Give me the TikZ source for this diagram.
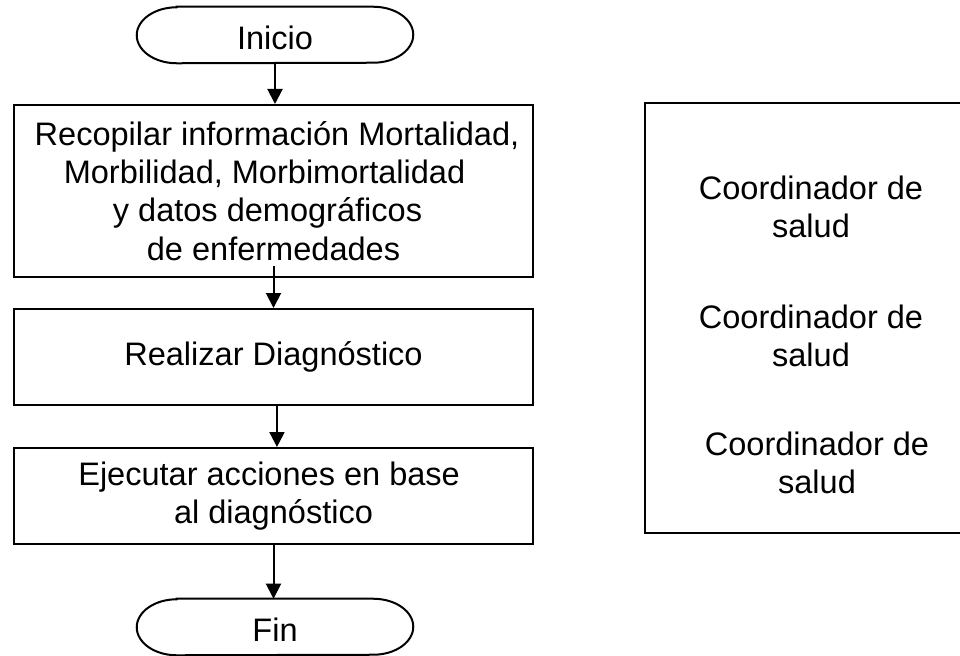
\documentclass[tikz,border=0pt]{standalone}
\usepackage{fontspec}
\setmainfont{Liberation Sans}
\usetikzlibrary{arrows.meta}
\tikzset{
  txt/.style={font=\fontsize{24.4pt}{28.6pt}\selectfont, align=center, inner sep=0pt},
  procbox/.style={txt, draw, line width=1.5pt, rectangle, minimum width=389.25pt, minimum height=72pt},
  termnode/.style={txt, minimum width=207pt, minimum height=42pt, text height=22pt, text depth=0pt},
  lanebox/.style={draw, line width=1.5pt, rectangle, minimum width=237.75pt, minimum height=322.5pt, inner sep=0pt},
  arr/.style={line width=1.5pt, -{Triangle[width=11.25pt,length=11.25pt]}},
  outline/.style={line width=1.5pt}
}
\newcommand\termoutline[1]{%
  \draw[outline] ([xshift=30pt]#1.north west) -- ([xshift=-30pt]#1.north east)
    arc[start angle=90,end angle=-90,x radius=30pt,y radius=21pt]
    -- ([xshift=30pt]#1.south west)
    arc[start angle=270,end angle=90,x radius=30pt,y radius=21pt] -- cycle;}
\begin{document}
\begin{tikzpicture}[x=0.75pt,y=-0.75pt]
\useasboundingbox (0,0) rectangle (960,656);
\fill[white] (0,0) rectangle (960,656);
% flow
\node[termnode] (inicio) at (275,35) {Inicio};
\termoutline{inicio}
\node[procbox, minimum height=129pt] (b1) at (273.5,191)
  {\kern5.25pt Recopilar información Mortalidad,\\
   Morbilidad, Morbimortalidad\kern13.5pt\\
   y datos demográficos\kern9pt\\
   de enfermedades};
\node[procbox] (b2) at (273.5,357) {Realizar Diagnóstico};
\node[procbox] (b3) at (273.5,496) {Ejecutar acciones en base\kern6.6pt\\ al diagnóstico};
\node[termnode] (fin) at (275,627) {Fin};
\termoutline{fin}
% connectors
\draw[arr] (inicio.south) -- (inicio.south |- b1.north);
\draw[arr] ([yshift=9pt]b1.south) -- (b2.north);
\draw[arr] ([xshift=2.6pt]b2.south) -- ([xshift=2.6pt]b3.north);
\draw[arr] (b3.south) -- (b3.south |- fin.north);
% right box
\node[lanebox] (lane) at (803.5,318) {};
\node[txt] (r1) at (811,207) {Coordinador de\\ salud};
\node[txt] (r2) at (811,336) {Coordinador de\\ salud};
\node[txt] (r3) at (817,463) {Coordinador de\\ salud};
\end{tikzpicture}
\end{document}
